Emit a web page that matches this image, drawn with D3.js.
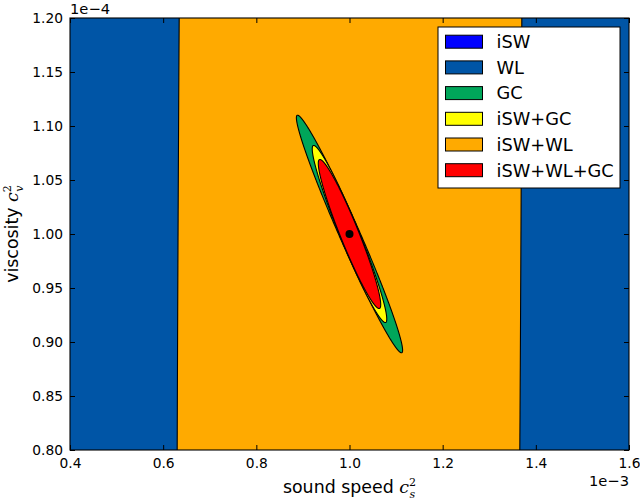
<!DOCTYPE html>
<html>
<head>
<meta charset="utf-8">
<script src="https://cdn.jsdelivr.net/npm/d3@7"></script>
<style>
  body { margin: 0; background: #fff; }
  text { font-family: "DejaVu Sans", sans-serif; }
</style>
</head>
<body>
<div id="chart"></div>
<script>
// tick values (x in units of 1e-3, y in units of 1e-4)
var xTicks = [0.4, 0.6, 0.8, 1.0, 1.2, 1.4, 1.6];
var yTicks = [0.80, 0.85, 0.90, 0.95, 1.00, 1.05, 1.10, 1.15, 1.20];

// fiducial point
var fiducial = [1.0, 1.0];

// confidence regions
var regionNames  = ["iSW", "WL", "GC", "iSW+GC", "iSW+WL", "iSW+WL+GC"];
var regionColors = ["#0000ff", "#0055a6", "#00a65a", "#ffff00", "#ffaa00", "#ff0000"];
var sigmaX = [50, 3, 0.114, 0.080, 0.372, 0.067];
var sigmaY = [50, 3, 0.110, 0.082, 5.0, 0.069];
var rho    = [0, 0, -0.978, -0.960, 0.145, -0.947];
var drawOrder = [0, 1, 4, 2, 3, 5];

var W = 640, H = 502;
var margin = {top: 18, right: 11, bottom: 52, left: 70};
var width = W - margin.left - margin.right,
    height = H - margin.top - margin.bottom;

var svg = d3.select("#chart").append("svg")
    .attr("width", W)
    .attr("height", H);

var g = svg.append("g")
    .attr("transform", "translate(" + margin.left + "," + margin.top + ")");

var x = d3.scaleLinear().domain([0.4, 1.6]).range([0, width]);
var y = d3.scaleLinear().domain([0.80, 1.20]).range([height, 0]);

g.append("clipPath").attr("id", "clip")
  .append("rect").attr("width", width).attr("height", height);

var plot = g.append("g").attr("clip-path", "url(#clip)");

// ellipse outline from sigma and correlation
function ellipse(i) {
  var s = Math.sqrt(1 - rho[i] * rho[i]);
  var pts = d3.range(0, 1441).map(function(k) {
    var t = k / 1440 * 2 * Math.PI;
    return [fiducial[0] + sigmaX[i] * Math.cos(t),
            fiducial[1] + sigmaY[i] * (rho[i] * Math.cos(t) + s * Math.sin(t))];
  });
  return pts;
}

var line = d3.line()
    .x(function(d) { return x(d[0]); })
    .y(function(d) { return y(d[1]); });

drawOrder.forEach(function(i) {
  plot.append("path")
      .attr("d", line(ellipse(i)) + "Z")
      .attr("fill", regionColors[i])
      .attr("stroke", "#000")
      .attr("stroke-width", 1.1);
});

plot.append("circle")
    .attr("cx", x(fiducial[0]))
    .attr("cy", y(fiducial[1]))
    .attr("r", 4)
    .attr("fill", "#000");

// axes, ticks inside on all four sides
var tl = 5;
var xAxisB = d3.axisBottom(x).tickValues(xTicks).tickSize(-tl).tickPadding(8)
    .tickFormat(d3.format(".1f"));
var xAxisT = d3.axisTop(x).tickValues(xTicks).tickSize(-tl).tickFormat("");
var yAxisL = d3.axisLeft(y).tickValues(yTicks).tickSize(-tl).tickPadding(7)
    .tickFormat(d3.format(".2f"));
var yAxisR = d3.axisRight(y).tickValues(yTicks).tickSize(-tl).tickFormat("");

function styleAxis(sel) {
  sel.select(".domain").remove();
  sel.selectAll("line").attr("stroke", "#000");
  sel.selectAll("text").attr("fill", "#000").style("font-size", "13.8px")
     .style("font-family", "DejaVu Sans, sans-serif");
}

g.append("g").attr("transform", "translate(0," + height + ")").call(xAxisB).call(styleAxis);
g.append("g").call(xAxisT).call(styleAxis);
g.append("g").call(yAxisL).call(styleAxis);
g.append("g").attr("transform", "translate(" + width + ",0)").call(yAxisR).call(styleAxis);

g.append("rect")
    .attr("width", width).attr("height", height)
    .attr("fill", "none").attr("stroke", "#000").attr("stroke-width", 1.1);

// offset labels
g.append("text").attr("x", 0).attr("y", -4)
    .style("font-size", "14.7px").text("1e\u22124");
g.append("text").attr("x", width).attr("y", height + 36)
    .attr("text-anchor", "end")
    .style("font-size", "14.7px").text("1e\u22123");

// axis labels with math c^2_sub
function mathLabel(sel, word, sub) {
  sel.append("tspan").text(word + " ");
  sel.append("tspan").text("c")
      .style("font-family", "DejaVu Serif, serif").style("font-style", "italic");
  sel.append("tspan").text("2").attr("dy", -7).style("font-size", "11px")
      .style("font-family", "DejaVu Serif, serif");
  sel.append("tspan").text(sub).attr("dx", -6.5).attr("dy", 12).style("font-size", "11px")
      .style("font-family", "DejaVu Serif, serif").style("font-style", "italic");
}

var xl = g.append("text")
    .attr("x", width / 2).attr("y", height + 43)
    .attr("text-anchor", "middle")
    .style("font-size", "17.4px");
mathLabel(xl, "sound speed", "s");

var yl = g.append("text")
    .attr("transform", "translate(" + (-52) + "," + (height / 2) + ") rotate(-90)")
    .attr("text-anchor", "middle")
    .style("font-size", "17.4px");
mathLabel(yl, "viscosity", "v");

// legend
var lg = svg.append("g").attr("transform", "translate(438,27)");
lg.append("rect")
    .attr("width", 182).attr("height", 161)
    .attr("fill", "#fff").attr("stroke", "#000").attr("stroke-width", 1);

regionNames.forEach(function(name, i) {
  var cy = 14.7 + i * 25.7;
  lg.append("rect")
      .attr("x", 7.5).attr("y", cy - 6.5)
      .attr("width", 37).attr("height", 13)
      .attr("fill", regionColors[i])
      .attr("stroke", "#000").attr("stroke-width", 1);
  lg.append("text")
      .attr("x", 58.5).attr("y", cy + 6.3)
      .style("font-size", "17.8px")
      .text(name);
});
</script>
</body>
</html>
